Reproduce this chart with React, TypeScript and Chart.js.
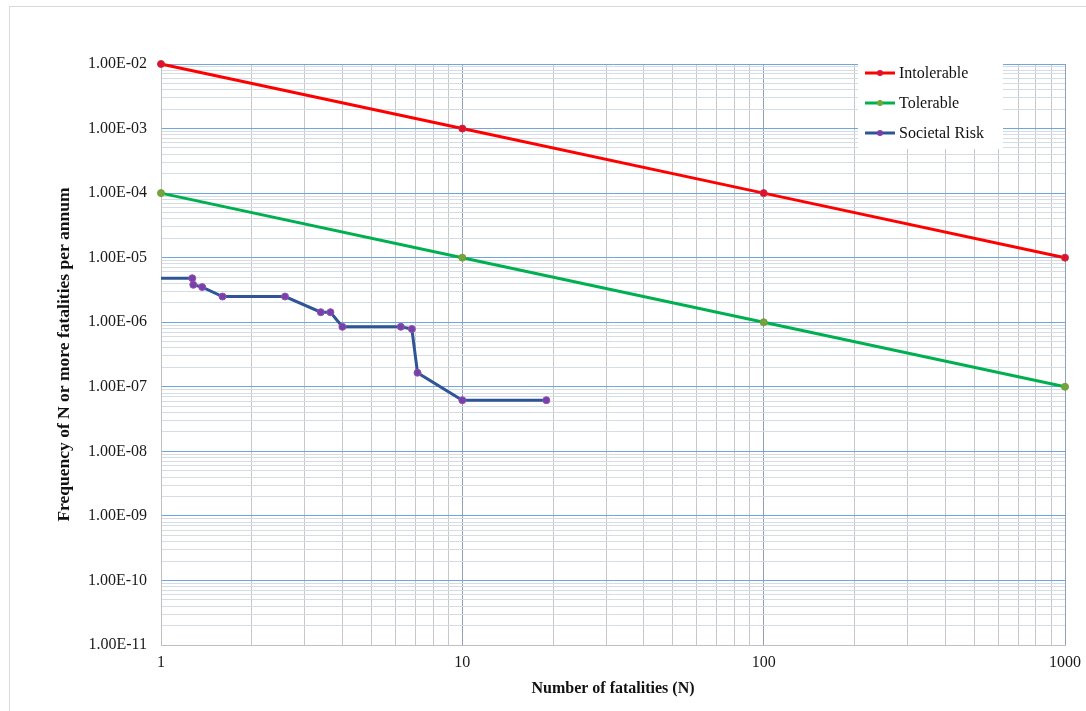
import React, { useEffect, useRef } from "react";
import { Chart, registerables } from "chart.js";

Chart.register(...registerables);

// ---- Data ----
const N_VALUES = [1, 10, 100, 1000];
const INTOLERABLE = [1e-2, 1e-3, 1e-4, 1e-5];
const TOLERABLE = [1e-4, 1e-5, 1e-6, 1e-7];

const SOCIETAL_N = [1, 1.27, 1.28, 1.37, 1.6, 2.58, 3.39, 3.65, 4.0, 6.25, 6.8, 7.1, 10, 19];
const SOCIETAL_F = [4.8e-6, 4.8e-6, 3.8e-6, 3.5e-6, 2.5e-6, 2.5e-6, 1.43e-6, 1.43e-6, 8.5e-7, 8.5e-7, 7.85e-7, 1.65e-7, 6.2e-8, 6.2e-8];

const SERIES_NAMES = ["Intolerable", "Tolerable", "Societal Risk"];

const X_TICK_VALUES = [1, 10, 100, 1000];
const X_TICK_LABELS = ["1", "10", "100", "1000"];

const Y_TICK_VALUES = [1e-11, 1e-10, 1e-9, 1e-8, 1e-7, 1e-6, 1e-5, 1e-4, 1e-3, 1e-2];
const Y_TICK_LABELS = [
  "1.00E-11", "1.00E-10", "1.00E-09", "1.00E-08", "1.00E-07",
  "1.00E-06", "1.00E-05", "1.00E-04", "1.00E-03", "1.00E-02",
];

const X_TITLE = "Number of fatalities (N)";
const Y_TITLE = "Frequency of N or more fatalities per annum";

// ---- helpers ----
const FONT = "'Liberation Serif', 'Times New Roman', serif";

function logTicks(min: number, max: number): number[] {
  const out: number[] = [];
  const e0 = Math.round(Math.log10(min));
  const e1 = Math.round(Math.log10(max));
  for (let e = e0; e < e1; e++) {
    for (let s = 1; s <= 9; s++) out.push(Number((s * Math.pow(10, e)).toPrecision(6)));
  }
  out.push(max);
  return out;
}

function isPow10(v: number): boolean {
  const l = Math.log10(v);
  return Math.abs(l - Math.round(l)) < 1e-9;
}

function labelFor(values: number[], labels: string[], v: number): string {
  for (let i = 0; i < values.length; i++) {
    if (Math.abs(Math.log10(values[i]) - Math.log10(v)) < 1e-9) return labels[i];
  }
  return "";
}

const legendPlugin = {
  id: "insideLegend",
  afterDraw(chart: any) {
    const ctx = chart.ctx as CanvasRenderingContext2D;
    const area = chart.chartArea;
    const x0 = area.right - 207;
    const y0 = area.top - 6;
    ctx.save();
    ctx.fillStyle = "#ffffff";
    ctx.fillRect(x0, y0, 145, 91);
    chart.data.datasets.forEach((ds: any, i: number) => {
      const cy = y0 + 15 + i * 30;
      ctx.strokeStyle = ds.borderColor;
      ctx.lineWidth = 3;
      ctx.beginPath();
      ctx.moveTo(x0 + 7, cy);
      ctx.lineTo(x0 + 37, cy);
      ctx.stroke();
      ctx.beginPath();
      ctx.arc(x0 + 22, cy, 3, 0, Math.PI * 2);
      ctx.fillStyle = ds.pointBackgroundColor;
      ctx.fill();
      ctx.fillStyle = "#111111";
      ctx.font = `16px ${FONT}`;
      ctx.textBaseline = "middle";
      ctx.textAlign = "left";
      ctx.fillText(ds.label, x0 + 41, cy + 1);
    });
    ctx.restore();
  },
};

export default function App() {
  const ref = useRef<HTMLCanvasElement | null>(null);

  useEffect(() => {
    if (!ref.current) return;
    const xTicks = logTicks(1, 1000);
    const yTicks = logTicks(1e-11, 1e-2);

    const chart = new Chart(ref.current, {
      type: "line",
      data: {
        datasets: [
          {
            label: SERIES_NAMES[0],
            data: N_VALUES.map((n, i) => ({ x: n, y: INTOLERABLE[i] })),
            borderColor: "#FF0000",
            backgroundColor: "#FF0000",
            pointBackgroundColor: "#E0102A",
            pointBorderColor: "#C0304A",
            borderWidth: 3,
            pointRadius: 3.5,
            pointBorderWidth: 1,
          },
          {
            label: SERIES_NAMES[1],
            data: N_VALUES.map((n, i) => ({ x: n, y: TOLERABLE[i] })),
            borderColor: "#00B050",
            backgroundColor: "#00B050",
            pointBackgroundColor: "#6FA83A",
            pointBorderColor: "#7A9A3A",
            borderWidth: 3,
            pointRadius: 3.5,
            pointBorderWidth: 1,
          },
          {
            label: SERIES_NAMES[2],
            data: SOCIETAL_N.map((n, i) => ({ x: n, y: SOCIETAL_F[i] })),
            borderColor: "#2F5597",
            backgroundColor: "#2F5597",
            pointBackgroundColor: "#7B3FA8",
            pointBorderColor: "#8A55B5",
            borderWidth: 3,
            pointRadius: (c: any) => (c.dataIndex === 0 ? 0 : 3.5),
            pointBorderWidth: 1,
          },
        ],
      },
      options: {
        responsive: false,
        animation: false,
        clip: false as any,
        layout: { padding: { left: 48, right: 21, top: 64, bottom: 0 } },
        plugins: {
          legend: { display: false },
          tooltip: { enabled: false },
        },
        elements: { line: { tension: 0 } },
        scales: {
          x: {
            type: "logarithmic",
            min: 1,
            max: 1000,
            afterBuildTicks: (s: any) => {
              s.ticks = xTicks.map((v) => ({ value: v }));
            },
            afterFit: (s: any) => {
              s.height = 66;
              s.paddingLeft = 0;
              s.paddingRight = 0;
            },
            ticks: {
              autoSkip: false,
              maxRotation: 0,
              padding: 8,
              color: "#1a1a1a",
              font: { family: FONT, size: 16 },
              callback: (v: any) => labelFor(X_TICK_VALUES, X_TICK_LABELS, Number(v)),
            },
            grid: {
              drawTicks: false,
              color: (c: any) => (c.tick && isPow10(c.tick.value) ? "#8EA0BC" : "#C8C8C8"),
              lineWidth: 1,
            },
            border: { display: true, color: "#BFBFBF", width: 1 },
            title: {
              display: true,
              text: X_TITLE,
              color: "#111111",
              font: { family: FONT, size: 16, weight: "bold" },
              padding: { top: 0, bottom: 13 },
            },
          },
          y: {
            type: "logarithmic",
            min: 1e-11,
            max: 1e-2,
            afterBuildTicks: (s: any) => {
              s.ticks = yTicks.map((v) => ({ value: v }));
            },
            afterFit: (s: any) => {
              s.width = 113;
              s.paddingTop = 0;
              s.paddingBottom = 0;
            },
            ticks: {
              autoSkip: false,
              padding: 14,
              color: "#1a1a1a",
              font: { family: FONT, size: 16 },
              callback: (v: any) => labelFor(Y_TICK_VALUES, Y_TICK_LABELS, Number(v)),
            },
            grid: {
              drawTicks: false,
              color: (c: any) => (c.tick && isPow10(c.tick.value) ? "#6FA6DC" : "#D6DCE4"),
              lineWidth: 1,
            },
            border: { display: true, color: "#BFBFBF", width: 1 },
            title: {
              display: true,
              text: Y_TITLE,
              color: "#111111",
              font: { family: FONT, size: 17.5, weight: "bold" },
              padding: { top: 6, bottom: 0 },
            },
          },
        },
      } as any,
      plugins: [legendPlugin],
    });
    return () => chart.destroy();
  }, []);

  return (
    <div style={{ position: "fixed", left: 0, top: 0, width: 1086, height: 711, background: "#fff" }}>
      <div
        style={{
          position: "absolute",
          left: 9,
          top: 6,
          width: 1086,
          height: 711,
          borderTop: "1px solid #D9D9D9",
          borderLeft: "1px solid #D9D9D9",
          boxSizing: "border-box",
        }}
      />
      <canvas ref={ref} width={1086} height={711} style={{ position: "absolute", left: 0, top: 0 }} />
    </div>
  );
}
